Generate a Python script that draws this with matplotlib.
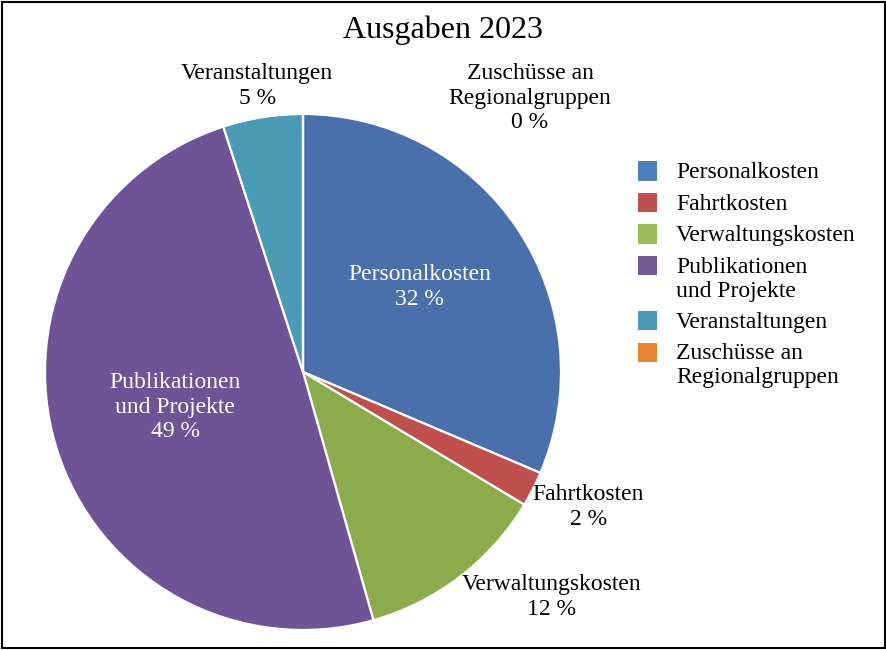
import matplotlib.pyplot as plt
from matplotlib.patches import Rectangle

plt.rcParams['font.family'] = ['Liberation Serif', 'DejaVu Serif']

categories = ["Personalkosten", "Fahrtkosten", "Verwaltungskosten",
              "Publikationen\nund Projekte", "Veranstaltungen",
              "Zuschüsse an\nRegionalgruppen"]
shares = [31.4, 2.2, 12.0, 49.4, 5.0, 0.0]
pct_labels = ["32 %", "2 %", "12 %", "49 %", "5 %", "0 %"]
colors = ["#4A70AB", "#C0504D", "#8CAB4B", "#6F5397", "#4A9CB6", "#E8862F"]
legend_colors = ["#4F7EC0", "#C0504D", "#9BBB59", "#725896", "#4A9CB5", "#E8862F"]

# label anchor points (in pie radius units) and colour
label_pos = [(0.453, 0.329), (1.105, -0.523), (0.965, -0.872),
             (-0.496, -0.136), (-0.178, 1.109), (0.880, 1.062)]
label_col = ["white", "black", "black", "white", "black", "black"]

fig = plt.figure(figsize=(8.87, 6.5), dpi=100)
ax = fig.add_axes([45 / 887, 20 / 650, 516 / 887, 516 / 650])
ax.pie(shares, colors=colors, startangle=90, counterclock=False, radius=1,
       wedgeprops=dict(edgecolor="white", linewidth=1.6))
ax.set_xlim(-1, 1)
ax.set_ylim(-1, 1)
ax.set_aspect("equal")
ax.axis("off")

fs = 17
for cat, pct, (x, y), c in zip(categories, pct_labels, label_pos, label_col):
    ax.text(x, y, cat + "\n" + pct, ha="center", va="center", fontsize=fs,
            color=c, linespacing=1.22, clip_on=False)

fig.text(443 / 887, 1 - 30 / 650, "Ausgaben 2023", ha="center", va="center",
         fontsize=23)

# legend, drawn line by line so the box sits on the first line
y = 171
for cat, c in zip(categories, legend_colors):
    fig.patches.append(Rectangle((638 / 887, 1 - (y + 9.5) / 650), 19 / 887, 19 / 650,
                                 transform=fig.transFigure, facecolor=c,
                                 edgecolor="none"))
    for i, line in enumerate(cat.split("\n")):
        fig.text(676 / 887, 1 - (y + 7 + 24 * i) / 650, line, ha="left",
                 va="baseline", fontsize=fs)
    y += 31.5 + 24 * cat.count("\n")

fig.patches.append(Rectangle((0.002, 0.003), 0.996, 0.994, transform=fig.transFigure,
                             fill=False, edgecolor="black", linewidth=1.5))

fig.savefig("out.png", dpi=100)
